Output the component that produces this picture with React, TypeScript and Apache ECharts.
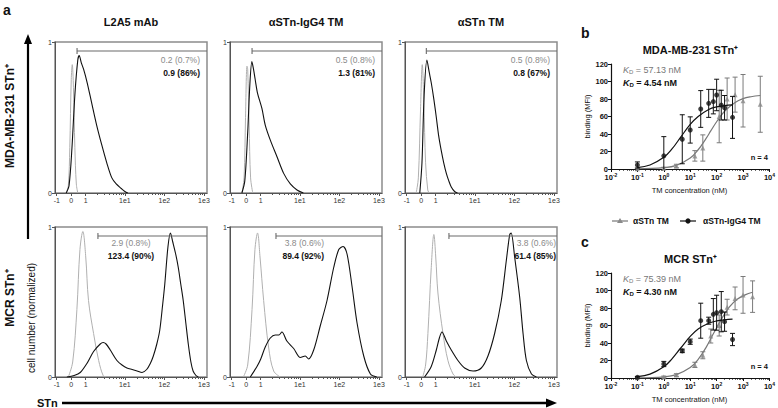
import React, { useEffect, useRef } from 'react';
import * as echarts from 'echarts';

const FONT = '"Liberation Sans", Arial, Helvetica, sans-serif';

// ---------- panel a : histogram axis (display channels of a biexponential scale) ----------
const histTickPos = [-1, 0, 1, 3.7, 6.42, 9.15];
const histTickLabels = ['-1', '0', '1', '1e1', '1e2', '1e3'];
const histYTicks = [0, 1];

const panelTitles = ['L2A5 mAb', 'αSTn-IgG4 TM', 'αSTn TM'];
const rowLabels = ['MDA-MB-231 STn⁺', 'MCR STn⁺'];

// [channel, normalized cell number]
const mdaL2A5Control = [[-0.35, 0], [-0.2, 0.05], [-0.1, 0.3], [0, 0.75], [0.07, 0.85], [0.15, 0.7], [0.25, 0.3], [0.35, 0.06], [0.45, 0]];
const mdaL2A5Stain = [[-0.35, 0], [-0.15, 0.05], [0.05, 0.3], [0.25, 0.65], [0.45, 0.88], [0.55, 0.91], [0.7, 0.86], [0.85, 0.82], [1.1, 0.73], [1.4, 0.6], [1.75, 0.45], [2.1, 0.32], [2.45, 0.2], [2.8, 0.1], [3.1, 0.06], [3.45, 0.03], [3.7, 0.01], [3.9, 0]];
const mdaIgG4Control = [[-0.3, 0], [-0.15, 0.1], [-0.05, 0.5], [0.05, 0.84], [0.1, 0.82], [0.2, 0.45], [0.3, 0.1], [0.45, 0]];
const mdaIgG4Stain = [[-0.3, 0], [-0.1, 0.08], [0.1, 0.4], [0.25, 0.72], [0.39, 0.87], [0.5, 0.82], [0.62, 0.75], [0.78, 0.66], [1.08, 0.56], [1.31, 0.45], [1.66, 0.35], [2.12, 0.24], [2.58, 0.13], [3.04, 0.06], [3.5, 0.02], [3.94, 0]];
const mdaTMControl = [[-0.35, 0], [-0.2, 0.1], [-0.05, 0.55], [0.07, 0.85], [0.18, 0.6], [0.3, 0.2], [0.45, 0.02], [0.55, 0]];
const mdaTMStain = [[-0.1, 0], [0.05, 0.2], [0.2, 0.65], [0.39, 0.88], [0.55, 0.8], [0.69, 0.73], [0.87, 0.62], [1.04, 0.5], [1.2, 0.38], [1.38, 0.28], [1.55, 0.2], [1.73, 0.13], [1.9, 0.08], [2.07, 0.04], [2.3, 0.01], [2.5, 0]];
const mcrL2A5Control = [[-0.2, 0], [0.1, 0.1], [0.39, 0.45], [0.6, 0.85], [0.8, 0.97], [1.0, 0.8], [1.19, 0.51], [1.54, 0.29], [1.89, 0.11], [2.2, 0.01], [2.4, 0]];
const mcrL2A5Stain = [[-0.3, 0], [0.2, 0.01], [0.62, 0.03], [1.08, 0.09], [1.54, 0.17], [2.0, 0.22], [2.2, 0.23], [2.4, 0.22], [2.69, 0.18], [3.15, 0.11], [3.5, 0.08], [3.84, 0.06], [4.2, 0.05], [4.54, 0.04], [4.88, 0.03], [5.2, 0.05], [5.45, 0.09], [5.66, 0.14], [5.9, 0.22], [6.1, 0.31], [6.3, 0.48], [6.45, 0.62], [6.67, 0.87], [6.84, 0.96], [7.0, 0.9], [7.2, 0.82], [7.38, 0.73], [7.55, 0.62], [7.72, 0.51], [7.9, 0.36], [8.07, 0.22], [8.25, 0.1], [8.4, 0.04], [8.6, 0.01], [8.76, 0]];
const mcrIgG4Control = [[-0.2, 0], [0.1, 0.08], [0.4, 0.45], [0.6, 0.85], [0.78, 0.96], [0.95, 0.8], [1.2, 0.51], [1.54, 0.2], [1.89, 0.04], [2.35, 0]];
const mcrIgG4Stain = [[0.28, 0], [0.74, 0.07], [1.0, 0.12], [1.31, 0.2], [1.66, 0.26], [2.0, 0.28], [2.25, 0.28], [2.46, 0.3], [2.8, 0.24], [3.27, 0.19], [3.73, 0.13], [4.07, 0.14], [4.3, 0.12], [4.65, 0.18], [5.1, 0.34], [5.57, 0.51], [6.03, 0.73], [6.38, 0.85], [6.68, 0.87], [6.95, 0.82], [7.3, 0.6], [7.64, 0.36], [8.1, 0.14], [8.56, 0.02], [9.0, 0]];
const mcrTMControl = [[0.1, 0], [0.3, 0.08], [0.46, 0.29], [0.69, 0.73], [0.87, 0.95], [1.0, 0.8], [1.15, 0.56], [1.5, 0.29], [1.84, 0.11], [2.19, 0.02], [2.4, 0]];
const mcrTMStain = [[0.23, 0], [0.69, 0.07], [1.04, 0.18], [1.25, 0.26], [1.43, 0.3], [1.73, 0.24], [2.07, 0.18], [2.53, 0.11], [2.99, 0.06], [3.57, 0.04], [4.14, 0.06], [4.6, 0.14], [5.06, 0.29], [5.52, 0.51], [5.87, 0.78], [6.1, 0.95], [6.2, 0.96], [6.44, 0.8], [6.79, 0.53], [7.02, 0.29], [7.25, 0.11], [7.6, 0.02], [7.94, 0]];

const histControls = [mdaL2A5Control, mdaIgG4Control, mdaTMControl, mcrL2A5Control, mcrIgG4Control, mcrTMControl];
const histStains = [mdaL2A5Stain, mdaIgG4Stain, mdaTMStain, mcrL2A5Stain, mcrIgG4Stain, mcrTMStain];

const gateLevel = 0.94;
const gateStarts = [0.4, 0.4, 0.35, 1.84, 2.05, 1.91];
const gateControlLabels = ['0.2 (0.7%)', '0.5 (0.8%)', '0.5 (0.8%)', '2.9 (0.8%)', '3.8 (0.6%)', '3.8 (0.6%)'];
const gateStainLabels = ['0.9 (86%)', '1.3 (81%)', '0.8 (67%)', '123.4 (90%)', '89.4 (92%)', '61.4 (85%)'];

// ---------- panels b and c : binding curves ----------
const concIgG4 = [0.1, 1, 5, 10, 25, 50, 75, 100, 150, 200, 400];
const concTMb = [0.1, 1, 3, 15, 30, 125, 250, 500, 1000, 4500];
const concTMc = [0.1, 1, 3, 15, 30, 60, 125, 250, 500, 1000, 2300];

const bIgG4Mean = [4.6, 15, 34, 44.6, 68.6, 75, 77, 84.6, 73, 70, 59];
const bIgG4Err = [3.5, 22, 28, 15, 21, 16, 14, 18, 17, 14, 24];
const bTMMean = [0.3, 1, 3.4, 15, 24, 60, 80, 85, 78, 74];
const bTMErr = [0.5, 1, 2, 6, 15, 30, 24, 20, 30, 32];
const cIgG4Mean = [0.8, 16, 31, 41.5, 65.5, 65.5, 72.8, 74.6, 75.8, 64.4, 44];
const cIgG4Err = [1, 3, 2, 3, 20, 4, 18, 20, 23, 11, 7];
const cTMMean = [0.3, 1.2, 3.4, 15, 26, 48, 60, 81, 91, 95, 93];
const cTMErr = [0.5, 1, 1.5, 3, 4, 8, 12, 9, 13, 21, 18];

// fitted curves: [concentration nM, binding]
const bIgG4Fit = [[0.1, 1.6], [0.3, 4.6], [1, 13.4], [2, 22.6], [4.5, 37], [10, 51], [20, 60], [50, 68], [100, 71], [200, 72.4], [400, 73.2]];
const bTMFit = [[0.1, 0.15], [1, 1.5], [3, 4.2], [10, 12.6], [20, 22], [40, 35], [60, 43.5], [100, 54], [200, 66], [500, 76], [1000, 80.4], [2000, 82.6], [4500, 84]];
const cIgG4Fit = [[0.1, 1.5], [0.3, 4.4], [1, 12.8], [2, 21.6], [4.3, 34], [10, 47.5], [20, 56], [50, 62.6], [100, 65.2], [200, 66.6], [400, 67.3]];
const cTMFit = [[0.1, 0.13], [1, 1.3], [3, 3.9], [10, 11.9], [20, 21.3], [40, 35], [75, 50.5], [150, 67], [300, 81], [600, 90], [1200, 95], [2300, 98]];

const kdTM = ['57.13', '75.39'];
const kdIgG4 = ['4.54', '4.30'];
const bindingTitles = ['MDA-MB-231 STn⁺', 'MCR STn⁺'];
const logTickExp = [-2, -1, 0, 1, 2, 3, 4];
const bindingYTicks = [0, 20, 40, 60, 80, 100, 120];
const legendNames = ['αSTn TM', 'αSTn-IgG4 TM'];

const GREY = '#8a8a8a';
const BLACK = '#111';

const supMap: Record<string, string> = { '-': '-', '0': '0', '1': '1', '2': '2', '3': '3', '4': '4' };

function buildOption() {
  const grid: any[] = [];
  const xAxis: any[] = [];
  const yAxis: any[] = [];
  const series: any[] = [];
  const graphic: any[] = [];

  const histLefts = [55, 230, 405];
  const histWidth = 152;
  const rowTops = [42, 227];
  const rowHeights = [151, 150];
  const hMin = -1.12;
  const hMax = 9.36;

  const histMinor: number[] = [];
  for (let d = 2; d < 5; d++) {
    const a = histTickPos[d];
    const b = histTickPos[d + 1];
    for (let m = 2; m <= 9; m++) histMinor.push(a + (b - a) * Math.log10(m));
  }

  const axisCol = '#555';

  for (let i = 0; i < 6; i++) {
    const row = Math.floor(i / 3);
    const col = i % 3;
    const left = histLefts[col];
    const top = rowTops[row];
    grid.push({ left, top, width: histWidth, height: rowHeights[row], show: true, borderColor: '#8c8c8c', borderWidth: 1.5, backgroundColor: 'transparent' });
    const gi = grid.length - 1;
    const xMain = xAxis.length;
    xAxis.push({
      type: 'value', gridIndex: gi, min: hMin, max: hMax, position: 'bottom',
      axisLine: { show: true, onZero: false, lineStyle: { color: axisCol, width: 1 } },
      axisTick: { show: true, customValues: histTickPos, length: 3, lineStyle: { color: axisCol } },
      axisLabel: {
        show: true, customValues: histTickPos, fontSize: 7, color: '#333', margin: 4, fontFamily: FONT,
        formatter: (v: number) => {
          const k = histTickPos.findIndex((t) => Math.abs(t - v) < 1e-6);
          return k >= 0 ? histTickLabels[k] : '';
        },
      },
      splitLine: { show: false },
    });
    xAxis.push({
      type: 'value', gridIndex: gi, min: hMin, max: hMax, position: 'bottom',
      axisLine: { show: false, onZero: false },
      axisTick: { show: true, customValues: histMinor, length: 2, lineStyle: { color: axisCol } },
      axisLabel: { show: false },
      splitLine: { show: false },
    });
    const yi = yAxis.length;
    yAxis.push({
      type: 'value', gridIndex: gi, min: 0, max: 1,
      axisLine: { show: true, onZero: false, lineStyle: { color: axisCol, width: 1 } },
      axisTick: { show: true, customValues: histYTicks, length: 3, lineStyle: { color: axisCol } },
      axisLabel: { show: true, customValues: histYTicks, fontSize: 7, color: '#333', margin: 3, fontFamily: FONT },
      splitLine: { show: false },
    });
    series.push({
      type: 'line', xAxisIndex: xMain, yAxisIndex: yi, data: histControls[i], showSymbol: false, smooth: 0.35,
      lineStyle: { color: '#b0b0b0', width: 1 }, z: 2,
    });
    series.push({
      type: 'line', xAxisIndex: xMain, yAxisIndex: yi, data: histStains[i], showSymbol: false, smooth: 0.3,
      lineStyle: { color: BLACK, width: 1.1 }, z: 3,
    });
    series.push({
      type: 'custom', xAxisIndex: xMain, yAxisIndex: yi, z: 4,
      data: [[gateStarts[i], hMax, gateLevel]],
      encode: { x: [0, 1], y: 2 },
      renderItem: (params: any, api: any) => {
        const s = api.coord([api.value(0), api.value(2)]);
        const e = api.coord([api.value(1), api.value(2)]);
        const st = { stroke: '#6a6a6a', lineWidth: 1.1 };
        return {
          type: 'group',
          children: [
            { type: 'line', shape: { x1: s[0], y1: s[1], x2: e[0], y2: e[1] }, style: st },
            { type: 'line', shape: { x1: s[0], y1: s[1] - 3, x2: s[0], y2: s[1] + 3 }, style: st },
          ],
        };
      },
    });

    // gate labels
    const right = left + histWidth;
    let lx: number;
    let align: string;
    if (row === 0) { lx = right - 7; align = 'right'; }
    else if (col === 0) { lx = left + 76; align = 'center'; }
    else if (col === 1) { lx = left + 94; align = 'right'; }
    else { lx = right - 1; align = 'right'; }
    const ly1 = row === 0 ? 60 : 243;
    const ly2 = row === 0 ? 73 : 256;
    graphic.push({ type: 'text', x: lx, y: ly1, z: 10, style: { text: gateControlLabels[i], fill: '#8a8a8a', fontSize: 8.5, fontFamily: FONT, align, verticalAlign: 'middle' } });
    graphic.push({ type: 'text', x: lx, y: ly2, z: 10, style: { text: gateStainLabels[i], fill: '#111', fontSize: 8.5, fontWeight: 'bold', fontFamily: FONT, align, verticalAlign: 'middle' } });
    if (row === 0) {
      graphic.push({ type: 'text', x: left + histWidth / 2, y: 22, style: { text: panelTitles[col], fill: '#111', fontSize: 11, fontWeight: 'bold', fontFamily: FONT, align: 'center', verticalAlign: 'middle' } });
    }
  }

  // ---------- b & c ----------
  const bcTops = [64, 273];
  const bcLeft = 611;
  const bcWidth = 159;
  const bcHeight = 105;
  const minorLog: number[] = [];
  for (let k = -2; k < 4; k++) for (let m = 2; m <= 9; m++) minorLog.push(k + Math.log10(m));

  const panelsBC = [
    { tm: concTMb, tmMean: bTMMean, tmErr: bTMErr, ig: concIgG4, igMean: bIgG4Mean, igErr: bIgG4Err, tmFit: bTMFit, igFit: bIgG4Fit },
    { tm: concTMc, tmMean: cTMMean, tmErr: cTMErr, ig: concIgG4, igMean: cIgG4Mean, igErr: cIgG4Err, tmFit: cTMFit, igFit: cIgG4Fit },
  ];

  const errRender = (color: string) => (params: any, api: any) => {
    const x = api.value(0);
    const lo = api.value(1);
    const hi = api.value(2);
    const pt = api.coord([x, hi]);
    const pb = api.coord([x, Math.max(lo, 0)]);
    const st = { stroke: color, lineWidth: 1 };
    const children: any[] = [
      { type: 'line', shape: { x1: pt[0], y1: pt[1], x2: pb[0], y2: pb[1] }, style: st },
      { type: 'line', shape: { x1: pt[0] - 2.5, y1: pt[1], x2: pt[0] + 2.5, y2: pt[1] }, style: st },
    ];
    if (lo > 0) children.push({ type: 'line', shape: { x1: pb[0] - 2.5, y1: pb[1], x2: pb[0] + 2.5, y2: pb[1] }, style: st });
    return { type: 'group', children };
  };

  panelsBC.forEach((p, j) => {
    grid.push({ left: bcLeft, top: bcTops[j], width: bcWidth, height: bcHeight, show: false });
    const gi = grid.length - 1;
    const xLog = xAxis.length;
    xAxis.push({ type: 'log', logBase: 10, gridIndex: gi, min: 0.01, max: 10000, show: false });
    xAxis.push({
      type: 'value', gridIndex: gi, min: -2, max: 4, interval: 1, position: 'bottom',
      axisLine: { show: true, onZero: false, lineStyle: { color: BLACK, width: 1.2 } },
      axisTick: { show: true, length: 3, lineStyle: { color: BLACK, width: 1 } },
      axisLabel: {
        show: true, margin: 3, color: '#111', fontFamily: FONT,
        formatter: (v: number) => `{a|10}{b|${String(Math.round(v)).split('').map((c) => supMap[c]).join('')}}`,
        rich: {
          a: { fontSize: 7.5, fontWeight: 'bold', fontFamily: FONT, color: '#111', verticalAlign: 'bottom' },
          b: { fontSize: 5, fontWeight: 'bold', fontFamily: FONT, color: '#111', verticalAlign: 'top', padding: [0, 0, 4, 0] },
        },
      },
      splitLine: { show: false },
    });
    xAxis.push({
      type: 'value', gridIndex: gi, min: -2, max: 4, position: 'bottom',
      axisLine: { show: false, onZero: false },
      axisTick: { show: true, customValues: minorLog, length: 1.8, lineStyle: { color: BLACK, width: 0.8 } },
      axisLabel: { show: false },
      splitLine: { show: false },
    });
    const yi = yAxis.length;
    yAxis.push({
      type: 'value', gridIndex: gi, min: 0, max: 120, interval: 20,
      axisLine: { show: true, onZero: false, lineStyle: { color: BLACK, width: 1.2 } },
      axisTick: { show: true, length: 3, lineStyle: { color: BLACK, width: 1 } },
      axisLabel: { fontSize: 7.5, fontWeight: 'bold', color: '#111', margin: 3, fontFamily: FONT },
      splitLine: { show: false },
    });
    // grey αSTn TM
    series.push({ type: 'line', xAxisIndex: xLog, yAxisIndex: yi, data: p.tmFit, showSymbol: false, smooth: 0.4, lineStyle: { color: '#777', width: 1.2 }, z: 2 });
    series.push({
      type: 'custom', xAxisIndex: xLog, yAxisIndex: yi, z: 3, encode: { x: 0, y: [1, 2] },
      data: p.tm.map((c, k) => [c, p.tmMean[k] - p.tmErr[k], p.tmMean[k] + p.tmErr[k]]),
      renderItem: errRender('#7a7a7a'),
    });
    series.push({
      type: 'scatter', xAxisIndex: xLog, yAxisIndex: yi, z: 4, symbol: 'triangle', symbolSize: 5,
      itemStyle: { color: GREY }, data: p.tm.map((c, k) => [c, p.tmMean[k]]),
    });
    // black αSTn-IgG4 TM
    series.push({ type: 'line', xAxisIndex: xLog, yAxisIndex: yi, data: p.igFit, showSymbol: false, smooth: 0.4, lineStyle: { color: BLACK, width: 1.2 }, z: 5 });
    series.push({
      type: 'custom', xAxisIndex: xLog, yAxisIndex: yi, z: 6, encode: { x: 0, y: [1, 2] },
      data: p.ig.map((c, k) => [c, p.igMean[k] - p.igErr[k], p.igMean[k] + p.igErr[k]]),
      renderItem: errRender(BLACK),
    });
    series.push({
      type: 'scatter', xAxisIndex: xLog, yAxisIndex: yi, z: 7, symbol: 'circle', symbolSize: 5,
      itemStyle: { color: BLACK }, data: p.ig.map((c, k) => [c, p.igMean[k]]),
    });

    const top = bcTops[j];
    const bottom = top + bcHeight;
    graphic.push({ type: 'text', x: 581, y: top - 38, style: { text: j === 0 ? 'b' : 'c', fill: '#111', fontSize: 14, fontWeight: 'bold', fontFamily: FONT, align: 'left', verticalAlign: 'top' } });
    graphic.push({ type: 'text', x: bcLeft + bcWidth / 2, y: top - 14, style: { text: bindingTitles[j], fill: '#111', fontSize: 11, fontWeight: 'bold', fontFamily: FONT, align: 'center', verticalAlign: 'middle' } });
    graphic.push({
      type: 'text', x: bcLeft + 12, y: top + 6,
      style: {
        text: `{k|K}{d|D}{n| = ${kdTM[j]} nM}`, fill: '#777', align: 'left', verticalAlign: 'middle',
        rich: {
          k: { fontSize: 9, fontStyle: 'italic', fontFamily: FONT, fill: '#777', verticalAlign: 'top' },
          d: { fontSize: 6, fontFamily: FONT, fill: '#777', verticalAlign: 'bottom', padding: [4, 0, 0, 0] },
          n: { fontSize: 9, fontFamily: FONT, fill: '#777', verticalAlign: 'top' },
        },
      },
    });
    graphic.push({
      type: 'text', x: bcLeft + 12, y: top + 19,
      style: {
        text: `{k|K}{d|D}{n| = ${kdIgG4[j]} nM}`, fill: '#111', align: 'left', verticalAlign: 'middle',
        rich: {
          k: { fontSize: 9, fontStyle: 'italic', fontWeight: 'bold', fontFamily: FONT, fill: '#111', verticalAlign: 'top' },
          d: { fontSize: 6, fontWeight: 'bold', fontFamily: FONT, fill: '#111', verticalAlign: 'bottom', padding: [4, 0, 0, 0] },
          n: { fontSize: 9, fontWeight: 'bold', fontFamily: FONT, fill: '#111', verticalAlign: 'top' },
        },
      },
    });
    graphic.push({ type: 'text', x: bcLeft + bcWidth - 2, y: bottom - 12, style: { text: 'n = 4', fill: '#111', fontSize: 7.5, fontWeight: 'bold', fontFamily: FONT, align: 'right', verticalAlign: 'middle' } });
    graphic.push({ type: 'text', x: bcLeft + bcWidth / 2 - 1, y: bottom + 21, style: { text: 'TM concentration (nM)', fill: '#111', fontSize: 7.5, fontFamily: FONT, align: 'center', verticalAlign: 'middle' } });
    graphic.push({ type: 'text', x: 587, y: top + bcHeight / 2, rotation: Math.PI / 2, style: { text: 'binding (MFI)', fill: '#111', fontSize: 7.5, fontFamily: FONT, align: 'center', verticalAlign: 'middle' } });
  });

  // legend (between b and c)
  const ly = 221;
  graphic.push({ type: 'line', shape: { x1: 612, y1: ly, x2: 628, y2: ly }, style: { stroke: '#777', lineWidth: 1.2 } });
  graphic.push({ type: 'polygon', shape: { points: [[620, ly - 3], [617, ly + 2], [623, ly + 2]] }, style: { fill: GREY } });
  graphic.push({ type: 'text', x: 633, y: ly, style: { text: legendNames[0], fill: '#111', fontSize: 8.5, fontWeight: 'bold', fontFamily: FONT, align: 'left', verticalAlign: 'middle' } });
  graphic.push({ type: 'line', shape: { x1: 680, y1: ly, x2: 696, y2: ly }, style: { stroke: BLACK, lineWidth: 1.2 } });
  graphic.push({ type: 'circle', shape: { cx: 688, cy: ly, r: 2.6 }, style: { fill: BLACK } });
  graphic.push({ type: 'text', x: 703, y: ly, style: { text: legendNames[1], fill: '#111', fontSize: 8.5, fontWeight: 'bold', fontFamily: FONT, align: 'left', verticalAlign: 'middle' } });

  // panel a decorations
  graphic.push({ type: 'text', x: 3, y: 3, style: { text: 'a', fill: '#111', fontSize: 14, fontWeight: 'bold', fontFamily: FONT, align: 'left', verticalAlign: 'top' } });
  graphic.push({ type: 'text', x: 10, y: 116, rotation: Math.PI / 2, style: { text: rowLabels[0], fill: '#111', fontSize: 12, fontWeight: 'bold', fontFamily: FONT, align: 'center', verticalAlign: 'middle' } });
  graphic.push({ type: 'text', x: 10, y: 298, rotation: Math.PI / 2, style: { text: rowLabels[1], fill: '#111', fontSize: 12, fontWeight: 'bold', fontFamily: FONT, align: 'center', verticalAlign: 'middle' } });
  graphic.push({ type: 'text', x: 31, y: 318, rotation: Math.PI / 2, style: { text: 'cell number (normalized)', fill: '#111', fontSize: 10, fontFamily: FONT, align: 'center', verticalAlign: 'middle' } });
  graphic.push({ type: 'line', shape: { x1: 28, y1: 239, x2: 28, y2: 42 }, style: { stroke: '#000', lineWidth: 2.2 } });
  graphic.push({ type: 'polygon', shape: { points: [[24, 44], [32, 44], [28, 34]] }, style: { fill: '#000' } });
  graphic.push({ type: 'text', x: 37, y: 403, style: { text: 'STn', fill: '#111', fontSize: 11, fontWeight: 'bold', fontFamily: FONT, align: 'left', verticalAlign: 'middle' } });
  graphic.push({ type: 'line', shape: { x1: 62, y1: 403, x2: 548, y2: 403 }, style: { stroke: '#000', lineWidth: 2.6 } });
  graphic.push({ type: 'polygon', shape: { points: [[546, 398.5], [546, 407.5], [557, 403]] }, style: { fill: '#000' } });

  return {
    animation: false,
    backgroundColor: '#fff',
    textStyle: { fontFamily: FONT },
    grid,
    xAxis,
    yAxis,
    series,
    graphic,
  };
}

export default function App() {
  const ref = useRef<HTMLDivElement>(null);
  useEffect(() => {
    if (!ref.current) return;
    const chart = echarts.init(ref.current, null, { renderer: 'svg' });
    chart.setOption(buildOption() as any);
    return () => chart.dispose();
  }, []);
  return <div ref={ref} style={{ position: 'fixed', left: 0, top: 0, width: 778, height: 408, background: '#fff' }} />;
}
